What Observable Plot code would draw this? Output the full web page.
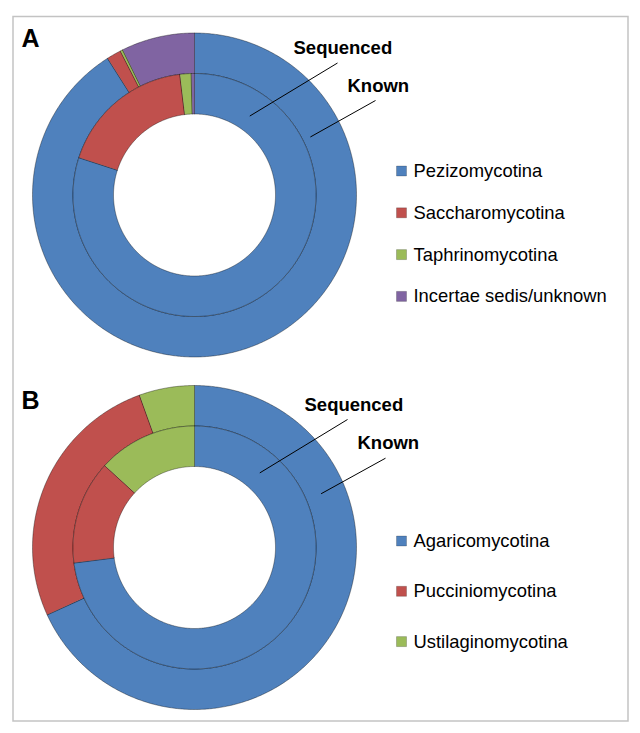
<!DOCTYPE html>
<html><head><meta charset="utf-8">
<script src="https://cdn.jsdelivr.net/npm/d3@7"></script>
<script src="https://cdn.jsdelivr.net/npm/@observablehq/plot@0.6"></script>
<style>body{margin:0;background:#fff}</style>
</head><body><div id="chart"></div>
<script>
// ---- Data (percent of each ring) ----
const categoriesA = ["Pezizomycotina", "Saccharomycotina", "Taphrinomycotina", "Incertae sedis/unknown"];
const knownA = [91.0, 1.45, 0.25, 7.3];
const sequencedA = [80.0, 18.1, 1.5, 0.4];

const categoriesB = ["Agaricomycotina", "Pucciniomycotina", "Ustilaginomycotina"];
const knownB = [68.2, 26.3, 5.5];
const sequencedB = [73.0, 13.8, 13.2];

const colorsA = ["#4F81BD", "#C0504D", "#9BBB59", "#8064A2"];
const colorsB = ["#4F81BD", "#C0504D", "#9BBB59"];

const ringNames = ["Known", "Sequenced"];
const panelLetters = ["A", "B"];

// ---- Layout ----
const W = 640, H = 733, R = 162;
const ringRadii = {Known: [0.75, 1.0], Sequenced: [0.5, 0.75]};
const panels = [
  {letter: panelLetters[0], cx: 194, cy: 194.5, cats: categoriesA, values: {Known: knownA, Sequenced: sequencedA},
   letterY: 46.5, legendY0: 170.5, legendStep: 41.8,
   annot: {Sequenced: {tx: 99, ty: -141.5, lx: 143, ly: -132, ang: 35, rad: 0.595},
           Known: {tx: 153, ty: -103.5, lx: 181, ly: -94.5, ang: 63.4, rad: 0.80}}},
  {letter: panelLetters[1], cx: 194, cy: 547, cats: categoriesB, values: {Known: knownB, Sequenced: sequencedB},
   letterY: 408.5, legendY0: 540.5, legendStep: 50.3,
   annot: {Sequenced: {tx: 110, ty: -137, lx: 153, ly: -128, ang: 41.2, rad: 0.612},
           Known: {tx: 163, ty: -98.7, lx: 191, ly: -89.3, ang: 67, rad: 0.849}}}
];

// ---- Build slice polygons from the values ----
const slicePts = [];
for (const p of panels) {
  for (const ring of ringNames) {
    const vals = p.values[ring];
    const total = d3.sum(vals);
    const [ri, ro] = ringRadii[ring].map(f => f * R);
    let acc = 0;
    vals.forEach((v, i) => {
      const a0 = acc / total * 2 * Math.PI; acc += v;
      const a1 = acc / total * 2 * Math.PI;
      const n = Math.max(2, Math.ceil((a1 - a0) / (Math.PI / 360)));
      const id = `${p.letter}-${ring}-${i}`;
      for (let k = 0; k <= n; k++) {
        const a = a0 + (a1 - a0) * k / n;
        slicePts.push({id, cat: p.cats[i], x: p.cx + ro * Math.sin(a), y: p.cy - ro * Math.cos(a)});
      }
      for (let k = n; k >= 0; k--) {
        const a = a0 + (a1 - a0) * k / n;
        slicePts.push({id, cat: p.cats[i], x: p.cx + ri * Math.sin(a), y: p.cy - ri * Math.cos(a)});
      }
    });
  }
}

// legend rows
const legendRows = panels.flatMap(p => p.cats.map((c, i) => ({cat: c, x: 401, tx: 413, y: p.legendY0 + i * p.legendStep})));
// ring annotations
const annots = panels.flatMap(p => ringNames.map(ring => {
  const a = p.annot[ring];
  const th = a.ang * Math.PI / 180;
  return {text: ring, x: p.cx + a.tx, y: p.cy + a.ty, x1: p.cx + a.lx, y1: p.cy + a.ly,
          x2: p.cx + a.rad * R * Math.sin(th), y2: p.cy - a.rad * R * Math.cos(th)};
}));
const letters = panels.map(p => ({text: p.letter, x: 21, y: p.letterY}));

const font = "Liberation Sans, Arial, Helvetica, sans-serif";

const chart = Plot.plot({
  width: W, height: H, margin: 0,
  x: {domain: [0, W], range: [0, W], axis: null},
  y: {domain: [0, H], range: [0, H], axis: null},
  color: {domain: [...categoriesA, ...categoriesB], range: [...colorsA, ...colorsB]},
  style: {fontFamily: font, background: "#fff"},
  marks: [
    Plot.frame({stroke: "#c3c3c3", strokeWidth: 1.5, insetLeft: 12.5, insetTop: 16, insetRight: 12.5, insetBottom: 12.5}),
    Plot.line(slicePts, {x: "x", y: "y", z: "id", fill: "cat", stroke: "#000", strokeOpacity: 0.4, strokeWidth: 0.9, curve: "linear-closed"}),
    Plot.link(annots, {x1: "x1", y1: "y1", x2: "x2", y2: "y2", stroke: "#000", strokeWidth: 1}),
    Plot.text(annots, {x: "x", y: "y", text: "text", textAnchor: "start", lineAnchor: "bottom", fontSize: 18.5, fontWeight: "bold", fill: "#000"}),
    Plot.text(letters, {x: "x", y: "y", text: "text", textAnchor: "start", lineAnchor: "bottom", fontSize: 25, fontWeight: "bold", fill: "#000"}),
    Plot.dot(legendRows, {x: "x", y: "y", fill: "cat", symbol: "square", r: 10 / Math.sqrt(Math.PI), stroke: "#000", strokeOpacity: 0.25, strokeWidth: 0.8}),
    Plot.text(legendRows, {x: "tx", y: d => d.y + 6, text: "cat", textAnchor: "start", lineAnchor: "bottom", fontSize: 18.4, fill: "#000"})
  ]
});
document.getElementById("chart").append(chart);
</script>
</body></html>
